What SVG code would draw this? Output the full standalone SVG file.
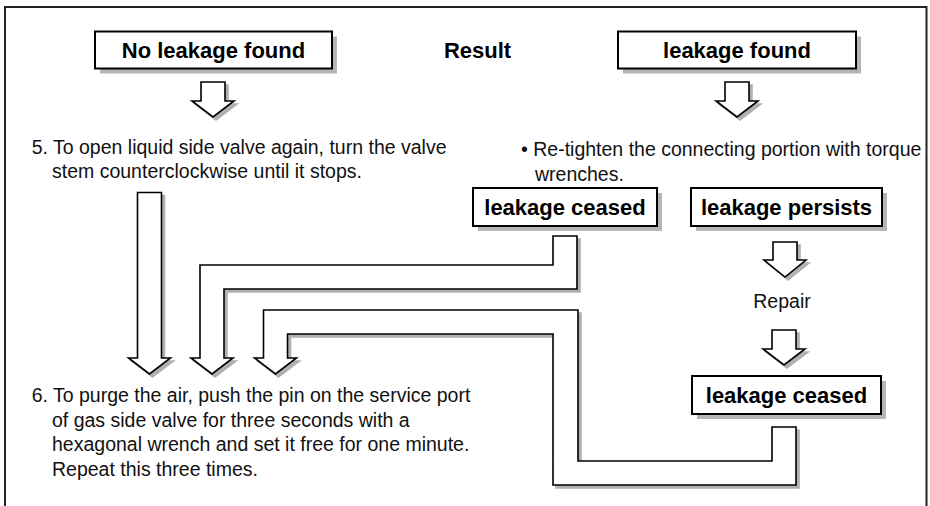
<svg xmlns="http://www.w3.org/2000/svg" xmlns:xlink="http://www.w3.org/1999/xlink" width="930" height="506" viewBox="0 0 930 506">
<style>
.box{fill:#fff;stroke:#000;stroke-width:2}
.bshadow{fill:#b5b5b5}
.bt{font-family:"Liberation Sans",Arial,sans-serif;font-weight:bold;font-size:22px;fill:#000;text-anchor:middle}
.t{font-family:"Liberation Sans",Arial,sans-serif;font-size:19.5px;fill:#111}
.arrow{fill:#fff;stroke:#000;stroke-width:1.6;stroke-linejoin:miter}
.ashadow{fill:#b0b0b0;stroke:#b0b0b0;stroke-width:1.6;filter:url(#soft)}
</style>
<defs>
<filter id="soft" x="-10%" y="-10%" width="120%" height="120%"><feGaussianBlur stdDeviation="0.7"/></filter>
<path id="arrTL" d="M201,82 H225 V101 H234 L213,117 L192,101 H201 Z"/>
<path id="arrTR" d="M725,82 H749 V101 H758 L737,117 L716,101 H725 Z"/>
<path id="arrP" d="M773,242 H797 V260 H806 L785,277 L764,260 H773 Z"/>
<path id="arrR" d="M772,330 H796 V349 H805 L784,365 L763,349 H772 Z"/>
<path id="arrLong" d="M137.5,192.5 H161.5 V358 H170.5 L149.5,374 L128.5,358 H137.5 Z"/>
<path id="arrE1" d="M200,358 V265 H553 V236 H577 V289 H224 V358 H233 L212,374 L191,358 Z"/>
<path id="arrE2" d="M263.5,358 V310 H578 V461 H772 V427 H796 V485 H553 V334 H287.5 V358 H296.5 L275.5,374 L254.5,358 Z"/>
</defs>
<rect x="0" y="0" width="930" height="506" fill="#fff"/>
<path d="M5,506 V7 H926.5 V506" fill="none" stroke="#222" stroke-width="2"/>

<g id="connectors">
<use xlink:href="#arrTL" class="ashadow" transform="translate(3,3)"/>
<use xlink:href="#arrTL" class="arrow"/>
<use xlink:href="#arrTR" class="ashadow" transform="translate(3,3)"/>
<use xlink:href="#arrTR" class="arrow"/>
<use xlink:href="#arrP" class="ashadow" transform="translate(3,3)"/>
<use xlink:href="#arrP" class="arrow"/>
<use xlink:href="#arrR" class="ashadow" transform="translate(3,3)"/>
<use xlink:href="#arrR" class="arrow"/>
<use xlink:href="#arrLong" class="ashadow" transform="translate(3,3)"/>
<use xlink:href="#arrLong" class="arrow"/>
<use xlink:href="#arrE1" class="ashadow" transform="translate(3,3)"/>
<use xlink:href="#arrE1" class="arrow"/>
<use xlink:href="#arrE2" class="ashadow" transform="translate(3,3)"/>
<use xlink:href="#arrE2" class="arrow"/>
</g>

<g id="no-leakage-found">
<rect class="bshadow" x="100" y="36.5" width="237" height="37"/>
<rect class="box" x="95" y="31.5" width="237" height="37"/>
<text class="bt" x="213.5" y="58">No leakage found</text>
</g>

<g id="result">
<text class="bt" x="477.5" y="58">Result</text>
</g>

<g id="leakage-found">
<rect class="bshadow" x="623" y="36.5" width="238" height="37"/>
<rect class="box" x="618" y="31.5" width="238" height="37"/>
<text class="bt" x="737" y="58">leakage found</text>
</g>

<g id="step5">
<text class="t" x="31.7" y="153.5">5. To open liquid side valve again, turn the valve</text>
<text class="t" x="52" y="178">stem counterclockwise until it stops.</text>
</g>

<g id="retighten">
<text class="t" x="521" y="156">• Re-tighten the connecting portion with torque</text>
<text class="t" x="535" y="180.5">wrenches.</text>
</g>

<g id="leakage-ceased-1">
<rect class="bshadow" x="478" y="193" width="184" height="38"/>
<rect class="box" x="473" y="188" width="184" height="38"/>
<text class="bt" x="565" y="215">leakage ceased</text>
</g>

<g id="leakage-persists">
<rect class="bshadow" x="696" y="193" width="191" height="38"/>
<rect class="box" x="691" y="188" width="191" height="38"/>
<text class="bt" x="786.5" y="215">leakage persists</text>
</g>

<g id="repair">
<text class="t" x="782" y="308" text-anchor="middle">Repair</text>
</g>

<g id="leakage-ceased-2">
<rect class="bshadow" x="697" y="381" width="189" height="38"/>
<rect class="box" x="692" y="376" width="189" height="38"/>
<text class="bt" x="786.5" y="403">leakage ceased</text>
</g>

<g id="step6">
<text class="t" x="31.7" y="402">6. To purge the air, push the pin on the service port</text>
<text class="t" x="52" y="426.5">of gas side valve for three seconds with a</text>
<text class="t" x="52" y="451">hexagonal wrench and set it free for one minute.</text>
<text class="t" x="52" y="475.5">Repeat this three times.</text>
</g>
</svg>
